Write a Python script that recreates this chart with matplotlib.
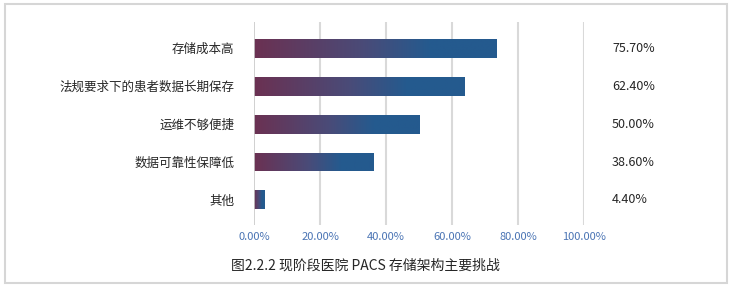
import numpy as np
import matplotlib
matplotlib.use('Agg')
import matplotlib.pyplot as plt
from matplotlib.colors import LinearSegmentedColormap
from matplotlib.patches import Rectangle

plt.rcParams['font.family'] = ['Noto Sans CJK SC', 'DejaVu Sans']

# data
categories = ['存储成本高', '法规要求下的患者数据长期保存', '运维不够便捷', '数据可靠性保障低', '其他']
bar_values = [73.6, 63.9, 50.0, 36.1, 3.3]
value_labels = ['75.70%', '62.40%', '50.00%', '38.60%', '4.40%']
x_ticks = [0, 20, 40, 60, 80, 100]
x_tick_labels = ['0.00%', '20.00%', '40.00%', '60.00%', '80.00%', '100.00%']
caption = '图2.2.2 现阶段医院 PACS 存储架构主要挑战'

W, H = 736, 287
fig = plt.figure(figsize=(W / 100, H / 100), dpi=100)

# outer border
fig.patches.append(Rectangle((5 / W, 4 / H), 722 / W, 279 / H, transform=fig.transFigure,
                             fill=False, edgecolor='#d6d6d6', linewidth=1.5))

ax = fig.add_axes([254 / W, 1 - 225 / H, 330 / W, 203 / H])

cmap = LinearSegmentedColormap.from_list('grad', [(0, '#6b3152'), (0.45, '#4a4b78'),
                                                  (0.72, '#255a8e'), (1, '#245a8e')])
grad = np.linspace(0, 1, 256).reshape(1, -1)

for i, v in enumerate(bar_values):
    bar = ax.barh(i, v, height=0.5, color='none', edgecolor='none', zorder=3)[0]
    im = ax.imshow(grad, cmap=cmap, aspect='auto', extent=(0, v, i + 0.25, i - 0.25),
                   zorder=3, interpolation='bilinear')
    im.set_clip_path(bar)
    ax.text(108.5, i, value_labels[i], va='center', ha='left', fontsize=9, color='#262626')

ax.set_xlim(0, 100)
ax.set_ylim(4.66, -0.69)

for x in x_ticks[1:]:
    ax.axvline(x, color='#d9d9d9', linewidth=1.5, zorder=1)
ax.axvline(0, color='#c8c8c8', linewidth=1.2, zorder=4)

ax.set_xticks(x_ticks)
ax.set_xticklabels(x_tick_labels, fontsize=8, color='#4a74b4')
ax.set_yticks(range(len(categories)))
ax.set_yticklabels(categories, fontsize=9, color='#262626')
ax.tick_params(axis='both', length=0)
ax.tick_params(axis='x', pad=5)
ax.tick_params(axis='y', pad=14)
for s in ax.spines.values():
    s.set_visible(False)

fig.text(365 / W, 1 - 266 / H, caption, ha='center', va='center', fontsize=10, color='#262626')

fig.savefig('out.png', dpi=100)
